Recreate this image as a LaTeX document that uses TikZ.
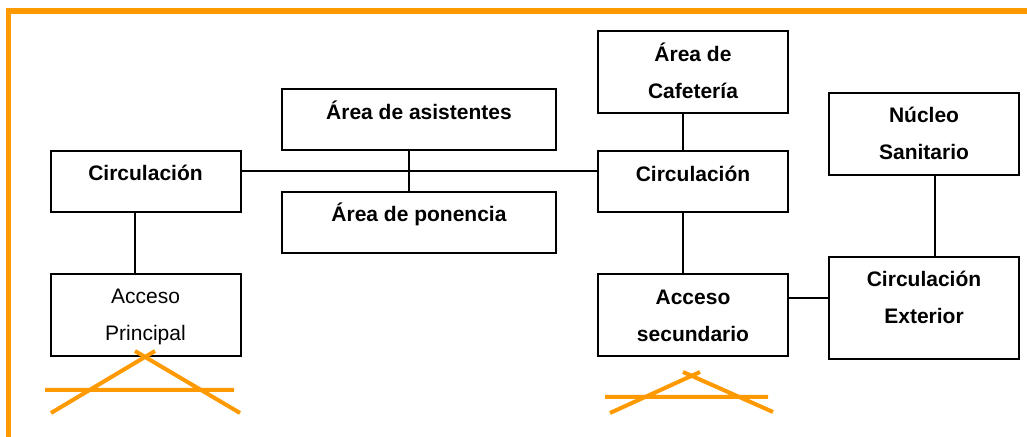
\documentclass[tikz,border=0pt]{standalone}
\usepackage{fontspec}
\setmainfont{Liberation Sans}
\usetikzlibrary{positioning}
\definecolor{naranja}{RGB}{255,153,0}

\begin{document}
\begin{tikzpicture}[x=0.5pt,y=-0.5pt,
   zona/.style={draw,line width=1pt,rectangle,inner xsep=2pt,inner ysep=3pt,
      align=center,font=\fontsize{10.5}{18.5}\selectfont\bfseries,
      minimum width=95pt,text height=12pt,text depth=12.5pt},
   doble/.style={text height=30.5pt,text depth=4.5pt},
   normal/.style={font=\fontsize{10.5}{18.5}\selectfont},
   tachado/.style={draw=naranja,line width=2pt},
   link/.style={draw,line width=1pt}]
   \useasboundingbox (0,0) rectangle (1027,437);
   % marco
   \draw[naranja,line width=2.6pt] (8.5,437) -- (8.5,11) -- (1027,11);

   \node[zona] (circ_a) at (145.5,181.5) {Circulación};
   \node[zona,doble,normal] (acc_p) [on grid,below=66.75pt of circ_a] {Acceso\\Principal};
   \node[zona,minimum width=137pt] (asis) at (419,120) {Área de asistentes};
   \node[zona,minimum width=137pt] (pone) at (419,222.5) {Área de ponencia};
   \node[zona,doble] (cafe) at (693,72.5) {Área de\\Cafetería};
   \node[zona] (circ_b) at (693,182) {Circulación};
   \node[zona,doble] (acc_s) at (693,315.5) {Acceso\\secundario};
   \node[zona,doble] (nucleo) at (924,134) {Núcleo\\Sanitario};
   \node[zona,doble,text depth=14.5pt] (circ_e) at (924,308) {Circulación\\Exterior};

   \path[link]
   ([yshift=5.25pt]circ_a.east) edge ([yshift=5.25pt]circ_a.east -| circ_b.west)
   ([xshift=-5pt]asis.south) edge ([xshift=-5pt]pone.north)
   ([xshift=-5.25pt]circ_a.south) edge ([xshift=-5.25pt]acc_p.north)
   ([xshift=-5pt]cafe.south) edge ([xshift=-5pt]circ_b.north)
   ([xshift=-5pt]circ_b.south) edge ([xshift=-5pt]acc_s.north)
   ([xshift=5.5pt]nucleo.south) edge ([xshift=5.5pt]circ_e.north)
   ([yshift=8.75pt]acc_s.east) edge ([yshift=8.75pt]acc_s.east -| circ_e.west);

   % accesos tachados
   \draw[tachado] (45,390) -- (234,390) (51,413) -- (155,351) (135,351) -- (240,413);
   \draw[tachado] (605,397) -- (768,397) (610,413) -- (700,372) (683,372) -- (773,412);
\end{tikzpicture}
\end{document}
